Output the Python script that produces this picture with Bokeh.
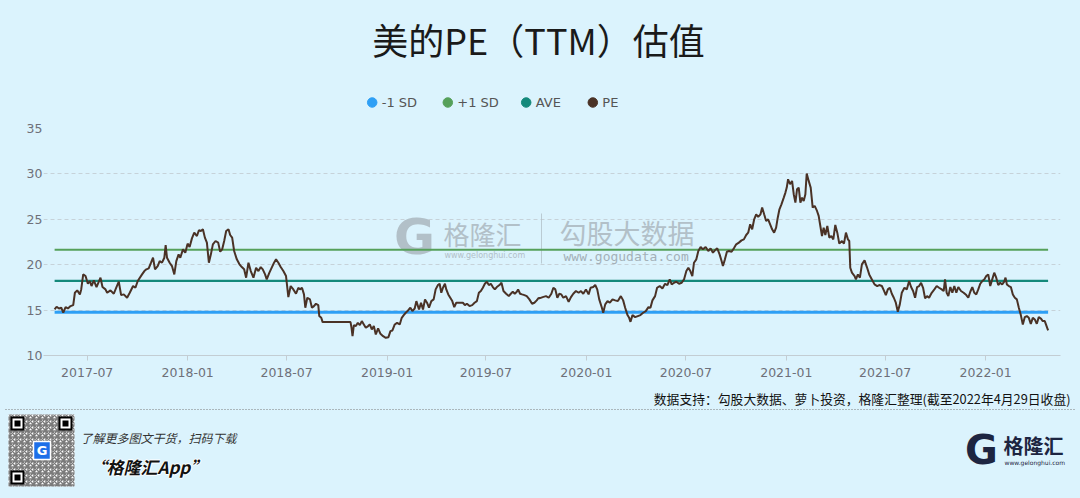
import numpy as np
import pandas as pd
from bokeh.plotting import figure
from bokeh.layouts import column
from bokeh.models import (Range1d, Label, BoxAnnotation, MonthsTicker,
                          DatetimeTickFormatter, SingleIntervalTicker)
from bokeh.core.properties import value
from bokeh.embed import file_html
from bokeh.resources import INLINE

# ---------------- data ----------------
title_text = "美的PE（TTM）估值"
series_names = ["-1 SD", "+1 SD", "AVE", "PE"]
series_colors = ["#2e9ff5", "#55a05a", "#14897b", "#4a3226"]
sd_minus = 14.77
sd_plus = 21.66
ave = 18.21
source_note = "数据支持：勾股大数据、萝卜投资，格隆汇整理(截至2022年4月29日收盘)"
promo_line = "了解更多图文干货，扫码下载"
promo_app = "“格隆汇App”"

# months after 2017-07-01
pe_month = [
    -1.96, -1.84, -1.70, -1.56, -1.44, -1.30, -1.16, -1.00, -0.84, -0.74,
    -0.60, -0.44, -0.36, -0.24, -0.10, 0.04, 0.16, 0.26, 0.40, 0.56,
    0.70, 0.80, 0.92, 1.10, 1.20, 1.40, 1.60, 1.76, 1.90, 2.04,
    2.20, 2.40, 2.56, 2.76, 2.90, 3.04, 3.30, 3.44, 3.56, 3.70,
    3.84, 3.96, 4.08, 4.24, 4.36, 4.50, 4.64, 4.72, 4.80, 4.96,
    5.10, 5.24, 5.36, 5.50, 5.60, 5.76, 5.90, 6.04, 6.16, 6.30,
    6.44, 6.60, 6.72, 6.84, 6.96, 7.08, 7.20, 7.32, 7.44, 7.56,
    7.72, 7.88, 8.00, 8.12, 8.24, 8.36, 8.50, 8.60, 8.72, 8.84,
    9.00, 9.16, 9.30, 9.44, 9.56, 9.70, 9.84, 10.00, 10.16, 10.30,
    10.44, 10.56, 10.70, 10.80, 10.96, 11.10, 11.24, 11.36, 11.50, 11.64,
    11.80, 11.96, 12.10, 12.24, 12.40, 12.56, 12.70, 12.80, 12.92, 13.04,
    13.12, 13.24, 13.40, 13.52, 13.64, 13.76, 13.90, 13.96, 14.08, 14.16,
    15.00, 15.84, 15.90, 15.96, 16.04, 16.16, 16.28, 16.40, 16.52, 16.64,
    16.76, 16.90, 17.00, 17.12, 17.24, 17.36, 17.50, 17.64, 17.80, 17.96,
    18.12, 18.24, 18.36, 18.50, 18.64, 18.80, 18.92, 19.04, 19.16, 19.30,
    19.44, 19.56, 19.70, 19.80, 19.96, 20.08, 20.20, 20.32, 20.44, 20.56,
    20.70, 20.84, 20.96, 21.10, 21.20, 21.30, 21.40, 21.52, 21.60, 21.72,
    21.84, 21.96, 22.08, 22.20, 22.40, 22.60, 22.72, 22.84, 23.00, 23.16,
    23.30, 23.44, 23.56, 23.68, 23.80, 23.92, 24.04, 24.16, 24.28, 24.40,
    24.52, 24.64, 24.80, 24.92, 25.04, 25.20, 25.36, 25.48, 25.60, 25.72,
    25.84, 25.92, 26.04, 26.16, 26.30, 26.44, 26.60, 26.76, 26.90, 27.04,
    27.16, 27.20, 27.40, 27.60, 27.76, 27.92, 28.04, 28.16, 28.28, 28.40,
    28.52, 28.64, 28.80, 28.96, 29.10, 29.24, 29.40, 29.56, 29.70, 29.84,
    30.00, 30.16, 30.28, 30.44, 30.56, 30.68, 30.80, 30.96, 31.04, 31.16,
    31.30, 31.44, 31.60, 31.76, 31.92, 32.10, 32.24, 32.36, 32.50, 32.60,
    32.68, 32.80, 32.96, 33.12, 33.28, 33.44, 33.60, 33.76, 33.88, 34.00,
    34.16, 34.28, 34.44, 34.60, 34.76, 34.90, 35.04, 35.16, 35.30, 35.44,
    35.60, 35.76, 35.90, 36.04, 36.16, 36.28, 36.40, 36.50, 36.64, 36.76,
    36.90, 37.04, 37.20, 37.36, 37.50, 37.64, 37.76, 37.90, 38.04, 38.16,
    38.24, 38.36, 38.48, 38.60, 38.76, 38.90, 39.04, 39.20, 39.36, 39.50,
    39.64, 39.76, 39.88, 40.00, 40.12, 40.24, 40.36, 40.50, 40.60, 40.72,
    40.84, 40.96, 41.08, 41.20, 41.32, 41.44, 41.52, 41.64, 41.76, 41.90,
    42.00, 42.08, 42.16, 42.28, 42.40, 42.50, 42.60, 42.70, 42.80, 42.90,
    43.00, 43.10, 43.20, 43.28, 43.40, 43.52, 43.64, 43.76, 43.90, 44.00,
    44.10, 44.20, 44.30, 44.40, 44.52, 44.64, 44.76, 44.88, 45.00, 45.12,
    45.24, 45.40, 45.52, 45.64, 45.76, 45.84, 45.90, 46.00, 46.16, 46.24,
    46.36, 46.48, 46.60, 46.76, 46.90, 47.04, 47.20, 47.36, 47.52, 47.64,
    47.80, 47.92, 48.04, 48.16, 48.28, 48.40, 48.52, 48.64, 48.76, 48.88,
    49.00, 49.16, 49.30, 49.44, 49.56, 49.68, 49.80, 49.92, 50.04, 50.16,
    50.28, 50.40, 50.52, 50.64, 50.80, 50.96, 51.10, 51.24, 51.40, 51.52,
    51.60, 51.70, 51.80, 51.92, 52.04, 52.16, 52.28, 52.40, 52.56, 52.72,
    52.88, 53.00, 53.12, 53.24, 53.36, 53.48, 53.60, 53.72, 53.84, 53.96,
    54.08, 54.20, 54.32, 54.44, 54.56, 54.68, 54.80, 54.92, 55.04, 55.16,
    55.24, 55.32, 55.44, 55.56, 55.68, 55.80, 55.92, 56.04, 56.16, 56.28,
    56.40, 56.52, 56.64, 56.76, 56.88, 57.00, 57.12, 57.24, 57.36, 57.48,
    57.60, 57.80,
]
pe = [
    15.07, 15.37, 15.18, 15.26, 14.71, 15.33, 15.18, 15.44, 15.55, 16.91,
    17.17, 16.73, 17.28, 18.93, 18.75, 17.90, 18.20, 17.65, 18.27, 17.54,
    18.13, 18.57, 17.54, 17.28, 16.91, 17.17, 16.80, 17.54, 18.13, 16.65,
    16.73, 16.36, 16.91, 17.65, 17.46, 18.20, 18.93, 19.30, 19.49, 19.60,
    20.22, 20.77, 19.49, 19.85, 20.40, 20.22, 20.77, 22.17, 20.77, 20.22,
    19.85, 18.93, 20.40, 21.14, 20.77, 21.69, 21.32, 22.32, 21.95, 22.90,
    23.53, 23.16, 23.79, 23.71, 23.90, 22.98, 22.43, 20.22, 21.14, 22.24,
    22.61, 22.43, 21.43, 21.69, 22.61, 23.71, 23.90, 23.27, 22.98, 21.51,
    20.59, 20.04, 19.74, 19.49, 18.57, 20.22, 19.30, 18.57, 19.67, 19.30,
    19.74, 19.49, 18.93, 18.38, 19.12, 19.67, 20.22, 20.59, 20.22, 19.74,
    19.30, 18.75, 16.44, 17.65, 17.28, 16.80, 17.46, 17.28, 17.46, 16.73,
    15.26, 16.36, 16.18, 15.26, 15.44, 15.70, 15.55, 14.34, 14.15, 13.68,
    13.68, 13.68, 13.05, 12.13, 13.35, 13.24, 13.60, 13.35, 13.79, 13.42,
    13.05, 13.24, 13.42, 12.87, 13.24, 12.32, 12.98, 12.39, 12.13, 11.95,
    12.02, 12.68, 12.76, 13.42, 13.60, 13.42, 14.15, 14.45, 14.71, 14.96,
    15.26, 14.89, 15.18, 15.99, 15.07, 15.81, 15.07, 16.18, 15.81, 15.26,
    15.99, 16.18, 17.28, 17.76, 17.90, 16.91, 17.46, 17.90, 17.28, 16.73,
    16.36, 15.99, 15.33, 15.81, 15.81, 15.81, 15.55, 15.70, 15.44, 15.55,
    15.81, 15.99, 16.91, 17.10, 17.46, 17.90, 18.13, 17.76, 17.90, 17.54,
    17.28, 17.54, 17.76, 18.01, 17.10, 16.80, 16.54, 16.80, 17.02, 16.80,
    17.02, 17.28, 16.80, 16.73, 16.65, 16.54, 16.18, 15.70, 15.81, 16.07,
    16.36, 16.29, 16.43, 16.54, 16.36, 16.80, 17.46, 17.28, 16.36, 16.80,
    16.73, 16.36, 16.54, 15.92, 16.43, 16.80, 17.10, 16.91, 17.10, 16.80,
    17.28, 16.73, 17.46, 17.54, 17.76, 17.28, 16.18, 15.26, 14.71, 15.63,
    15.99, 15.81, 16.18, 16.07, 15.99, 16.54, 16.07, 15.26, 14.45, 14.15,
    13.71, 14.45, 14.23, 14.34, 14.45, 14.71, 14.89, 15.33, 15.26, 16.07,
    16.54, 17.46, 17.65, 17.39, 17.90, 17.76, 18.38, 17.83, 18.01, 18.13,
    17.90, 18.01, 18.38, 19.30, 19.67, 19.30, 18.75, 20.22, 20.59, 21.51,
    21.95, 21.69, 21.95, 21.51, 21.80, 21.32, 21.58, 21.80, 21.14, 20.40,
    19.85, 20.59, 21.43, 21.51, 21.43, 21.80, 22.24, 22.43, 22.68, 22.79,
    23.27, 23.53, 24.45, 23.90, 25.00, 25.55, 25.26, 25.55, 26.29, 25.55,
    24.82, 25.00, 24.45, 23.90, 23.53, 24.08, 25.00, 26.10, 26.65, 27.39,
    27.94, 28.49, 29.41, 28.86, 29.23, 27.76, 26.84, 28.31, 28.49, 26.84,
    27.39, 27.02, 27.76, 30.04, 29.23, 28.49, 26.29, 26.47, 25.92, 25.37,
    24.26, 23.16, 24.08, 23.27, 24.26, 22.98, 23.16, 22.79, 24.38, 23.53,
    22.32, 22.61, 22.32, 23.53, 22.79, 22.61, 19.67, 19.12, 18.75, 18.38,
    18.93, 18.57, 20.04, 20.48, 19.74, 18.93, 18.38, 17.83, 17.65, 17.76,
    17.65, 17.17, 16.65, 17.28, 17.46, 16.80, 16.36, 15.81, 14.82, 15.63,
    16.91, 17.46, 17.28, 18.20, 17.54, 17.10, 16.36, 17.54, 17.65, 18.01,
    17.46, 16.29, 16.54, 16.36, 16.91, 17.28, 17.65, 17.46, 17.28, 17.10,
    18.38, 16.91, 16.54, 17.54, 16.91, 17.65, 16.91, 17.54, 17.10, 16.91,
    16.65, 16.36, 17.02, 17.54, 16.91, 16.73, 17.28, 17.90, 18.20, 18.38,
    18.75, 18.93, 17.65, 18.38, 19.12, 18.57, 17.76, 18.01, 17.83, 18.13,
    18.57, 17.83, 17.65, 17.54, 16.73, 16.36, 16.18, 15.26, 14.45, 13.42,
    14.23, 14.34, 14.15, 13.49, 14.15, 13.97, 13.49, 14.23, 14.08, 13.79,
    13.79, 12.76,
]

# ---------------- layout constants (reference pixels) ----------------
BG = "#dbf3fd"
W = 1080
HEAD_H = 120            # title + legend band
MAIN_H = 265            # chart band (y 120..385)
FOOT_H = 498 - HEAD_H - MAIN_H
FL, FR, FT, FB = 43, 1060, 128, 355   # plot frame edges
CJK = "Noto Sans CJK SC"


def blank(height, y_top):
    f = figure(width=W, height=height, output_backend="svg", toolbar_location=None,
               x_range=Range1d(0, W), y_range=Range1d(y_top + height, y_top),
               x_axis_location=None, y_axis_location=None,
               min_border=0, min_border_left=0, min_border_right=0,
               min_border_top=0, min_border_bottom=0, frame_align=False)
    f.background_fill_color = BG
    f.border_fill_color = BG
    f.outline_line_color = None
    f.grid.visible = False
    return f


def txt(f, x, y, s, size, color, font=CJK, align="left", style="normal", alpha=1.0):
    f.text(x=[x], y=[y], text=[s], text_font=value(font), text_font_size=value(f"{size}px"),
           text_color=color, text_align=align, text_baseline="middle",
           text_font_style=style, text_alpha=alpha)


# ---------------- head: title + legend ----------------
head = blank(HEAD_H, 0)
txt(head, 538, 38, title_text, 36, "#1a1a1a", align="center")
legend_dot_x = [371.7, 447.3, 525.7, 592.3]
for xd, name, col in zip(legend_dot_x, series_names, series_colors):
    head.scatter(x=[xd], y=[102], size=9.5, marker="circle", fill_color=col, line_color=col)
    txt(head, xd + 9.5, 102, name, 13, "#555555", font="DejaVu Sans")

# ---------------- main chart ----------------
dates = pd.Timestamp("2017-07-01") + pd.to_timedelta(np.array(pe_month) * 30.4375, unit="D")

p = figure(width=W, height=MAIN_H, x_axis_type="datetime", output_backend="svg",
           toolbar_location=None,
           x_range=Range1d(pd.Timestamp("2017-04-12"), pd.Timestamp("2022-05-18")),
           y_range=Range1d(10, 35),
           min_border_left=FL, min_border_right=W - FR,
           min_border_top=FT - HEAD_H, min_border_bottom=HEAD_H + MAIN_H - FB,
           frame_align=False)
p.background_fill_color = BG
p.border_fill_color = BG
p.outline_line_color = None

p.yaxis.ticker = SingleIntervalTicker(interval=5)
p.yaxis.axis_line_color = None
p.yaxis.major_tick_line_color = None
p.yaxis.minor_tick_line_color = None
p.yaxis.major_tick_out = 0
p.yaxis.major_tick_in = 0
p.yaxis.major_label_standoff = -3
p.xaxis.ticker = MonthsTicker(months=[0, 6])
p.xaxis.formatter = DatetimeTickFormatter(months="%Y-%m", years="%Y-%m", days="%Y-%m")
p.xaxis.axis_line_color = "#c3cdd3"
p.xaxis.major_tick_line_color = "#c3cdd3"
p.xaxis.major_tick_out = 5
p.xaxis.major_tick_in = 0
p.xaxis.minor_tick_line_color = None
p.xaxis.major_label_standoff = 7
for ax in (p.xaxis, p.yaxis):
    ax.major_label_text_font = "DejaVu Sans"
    ax.major_label_text_font_size = "12.5px"
    ax.major_label_text_color = "#6e7079"
p.xgrid.grid_line_color = None
p.ygrid.grid_line_color = "#c6d2d9"
p.ygrid.grid_line_dash = "4 3"


def mlab(x, y, s, size, color, font=CJK, align="left", style="normal"):
    p.add_layout(Label(x=x - FL, y=FB - y, x_units="screen", y_units="screen", text=s,
                       text_font=font, text_font_size=f"{size}px", text_color=color,
                       text_align=align, text_baseline="middle", text_font_style=style,
                       level="underlay"))


# watermarks (drawn under the series)
WM = "#b2c0c8"
mlab(414, 236, "G", 50, WM, font="DejaVu Sans", align="center", style="bold")
mlab(443, 233, "格隆汇", 26, WM)
mlab(444, 255, "www.gelonghui.com", 8, WM, font="DejaVu Sans")
p.add_layout(BoxAnnotation(left=540.5 - FL, right=541.5 - FL, top=FB - 213, bottom=FB - 263,
                           left_units="screen", right_units="screen", top_units="screen",
                           bottom_units="screen", fill_color=WM, fill_alpha=0.8,
                           line_color=None, level="underlay"))
mlab(559, 232, "勾股大数据", 27, WM)
mlab(563, 256, "www.gogudata.com", 13, "#a3b0b8", font="DejaVu Sans Mono")

first, last = dates[0], dates[-1]
p.line([first, last], [sd_minus, sd_minus], line_color=series_colors[0], line_width=3)
p.line([first, last], [sd_plus, sd_plus], line_color=series_colors[1], line_width=2)
p.line([first, last], [ave, ave], line_color=series_colors[2], line_width=2.2)
p.line(dates, pe, line_color=series_colors[3], line_width=2)

# ---------------- footer ----------------
foot = blank(FOOT_H, HEAD_H + MAIN_H)
txt(foot, 1070, 398, source_note, 12.8, "#111111", align="right")
foot.line([5, 1075], [409, 409], line_color="#7a7a7a", line_dash="1 2", line_width=1)

# QR code (approximation)
foot.quad(left=[8], right=[74], top=[414], bottom=[486], fill_color="white", line_color=None,
          hatch_pattern="criss_cross", hatch_color="#222222", hatch_scale=6,
          hatch_weight=1.5, hatch_alpha=0.6)
for (l, t) in [(10, 416), (58, 416), (10, 470)]:
    foot.quad(left=[l], right=[l + 14], top=[t], bottom=[t + 14], fill_color="black", line_color=None)
    foot.quad(left=[l + 2], right=[l + 12], top=[t + 2], bottom=[t + 12], fill_color="white", line_color=None)
    foot.quad(left=[l + 4], right=[l + 10], top=[t + 4], bottom=[t + 10], fill_color="black", line_color=None)
foot.quad(left=[33], right=[50], top=[441], bottom=[459], fill_color="#1e6fe8",
          line_color="white", line_width=1.5)
txt(foot, 41.5, 450, "G", 13, "white", font="DejaVu Sans", align="center", style="bold")

txt(foot, 80, 437, promo_line, 12, "#333333", style="italic")
for dx, dy in [(-1, 0), (1, 0), (0, -1), (0, 1)]:
    txt(foot, 89 + dx, 466 + dy, promo_app, 17, "white", style="bold italic")
txt(foot, 89, 466, promo_app, 17, "#111111", style="bold italic")

# logo bottom-right
txt(foot, 981, 449, "G", 40, "#1d2541", font="DejaVu Sans", align="center", style="bold")
txt(foot, 1003, 445, "格隆汇", 20, "#1d2541", style="bold")
txt(foot, 1004, 462, "www.gelonghui.com", 6, "#1d2541", font="DejaVu Sans")

page = column(head, p, foot, spacing=0, styles={"background-color": BG})
open("out.html", "w").write(file_html(page, INLINE))
